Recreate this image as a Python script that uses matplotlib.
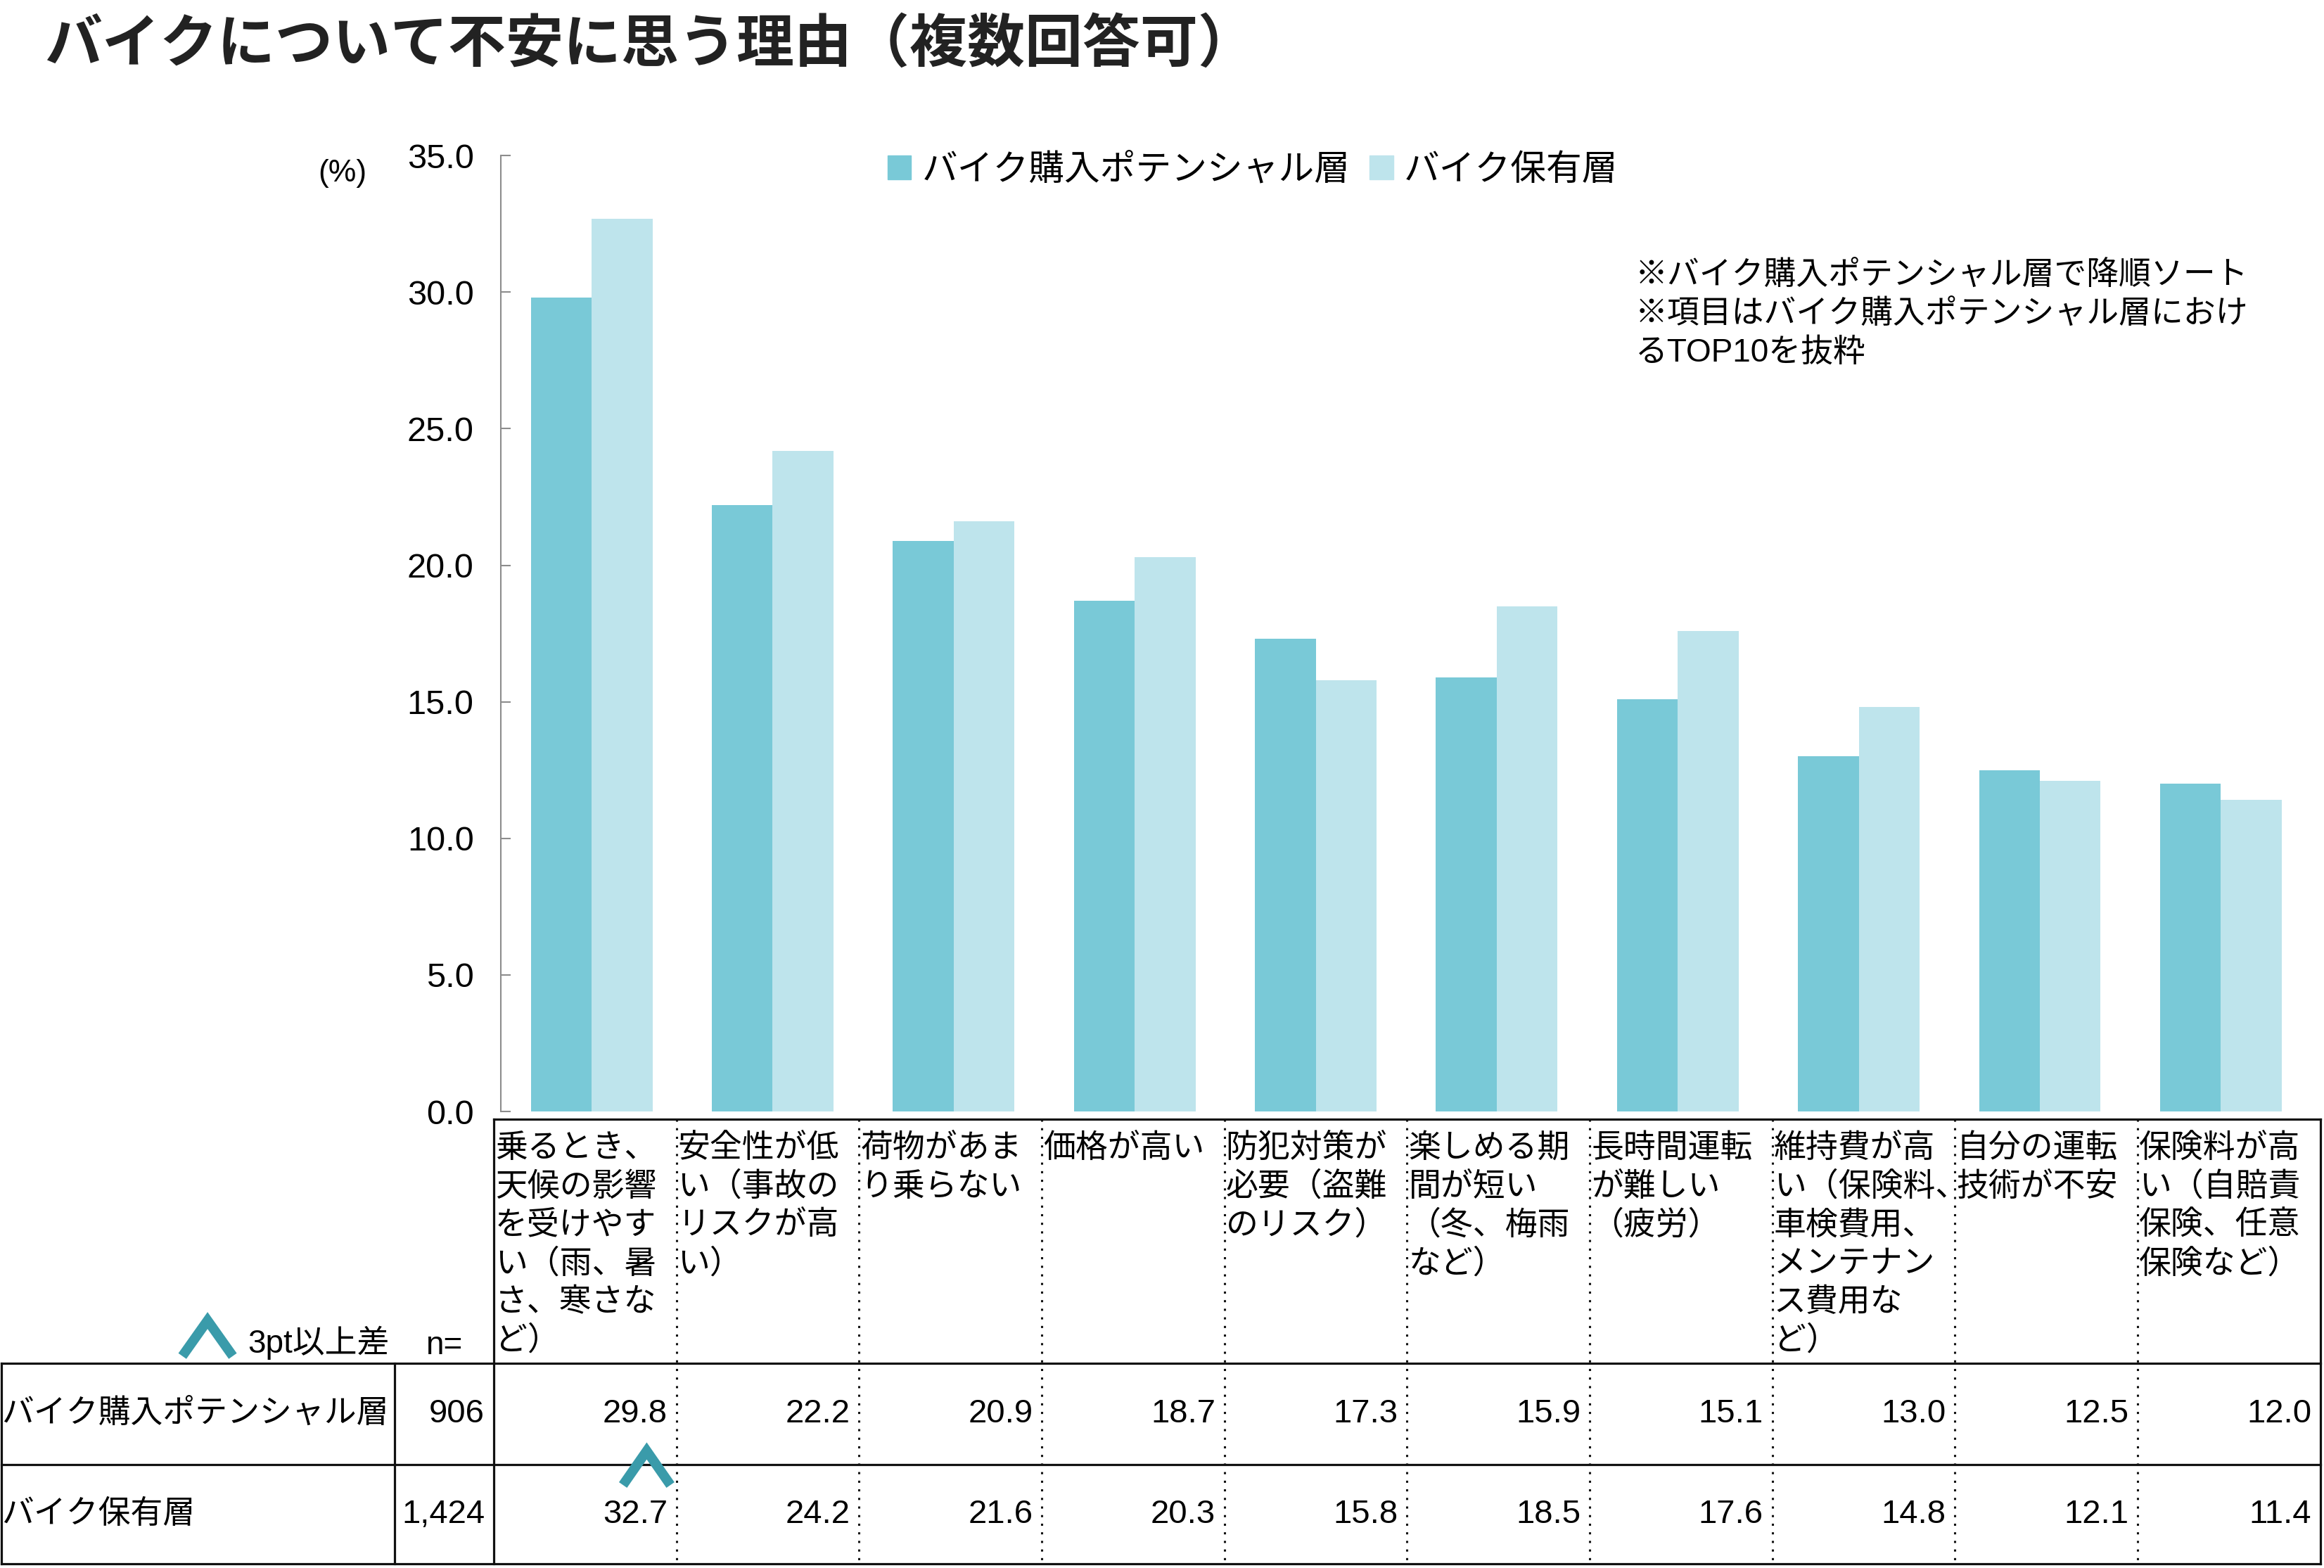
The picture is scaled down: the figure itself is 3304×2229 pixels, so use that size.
import numpy as np
import matplotlib.pyplot as plt
from matplotlib.lines import Line2D
from matplotlib.patches import Patch

plt.rcParams['font.family'] = ['Liberation Sans', 'Noto Sans CJK JP', 'DejaVu Sans']

# data
categories = [
    "乗るとき、\n天候の影響\nを受けやす\nい（雨、暑\nさ、寒さな\nど）",
    "安全性が低\nい（事故の\nリスクが高\nい）",
    "荷物があま\nり乗らない",
    "価格が高い",
    "防犯対策が\n必要（盗難\nのリスク）",
    "楽しめる期\n間が短い\n（冬、梅雨\nなど）",
    "長時間運転\nが難しい\n（疲労）",
    "維持費が高\nい（保険料、\n車検費用、\nメンテナン\nス費用な\nど）",
    "自分の運転\n技術が不安",
    "保険料が高\nい（自賠責\n保険、任意\n保険など）",
]
series_names = ["バイク購入ポテンシャル層", "バイク保有層"]
potential = [29.8, 22.2, 20.9, 18.7, 17.3, 15.9, 15.1, 13.0, 12.5, 12.0]
owner = [32.7, 24.2, 21.6, 20.3, 15.8, 18.5, 17.6, 14.8, 12.1, 11.4]
n_values = ["906", "1,424"]
owner_flag = [True, False, False, False, False, False, False, False, False, False]
yticks = [0, 5, 10, 15, 20, 25, 30, 35]

title = "バイクについて不安に思う理由（複数回答可）"
notes = ["※バイク購入ポテンシャル層で降順ソート",
         "※項目はバイク購入ポテンシャル層におけ",
         "るTOP10を抜粋"]

c_dark = '#79C9D7'
c_light = '#BEE4EC'
c_mark = '#3A9BAA'
c_line = '#111111'

# layout grid (reference pixels at 1568 x 1058)
W, H = 1568, 1058
def fx(x):
    return x / W
def fy(y):
    return 1 - y / H

fig = plt.figure(figsize=(33.05, 22.29), dpi=100)

fig.text(fx(30), fy(31), title, fontsize=59, fontweight='bold',
         ha='left', va='center', color='#222222')

# bar chart
ax = fig.add_axes([fx(338), fy(750), fx(1559) - fx(338), fy(105) - fy(750)])
x = np.arange(len(categories))
bw = 0.336
ax.bar(x - bw / 2, potential, bw, color=c_dark, label=series_names[0])
ax.bar(x + bw / 2, owner, bw, color=c_light, label=series_names[1])
ax.set_xlim(-0.5, 9.5)
ax.set_ylim(0, 35)
ax.set_xticks([])
ax.set_yticks(yticks)
ax.set_yticklabels([f"{v:.1f}" for v in yticks])
for s in ['top', 'right', 'bottom']:
    ax.spines[s].set_visible(False)
ax.spines['left'].set_color('#8c8c8c')
ax.spines['left'].set_linewidth(1.5)
ax.tick_params(axis='y', direction='in', length=10, width=1.5, color='#8c8c8c',
               pad=28, labelsize=35)

fig.text(fx(231), fy(117), "(%)", fontsize=32, ha='center', va='center')

handles = [Patch(color=c_dark), Patch(color=c_light)]
fig.legend(handles, series_names, loc='center', bbox_to_anchor=(fx(845), fy(115)),
           ncol=2, frameon=False, fontsize=36.5, handlelength=0.66, handleheight=0.66,
           handletextpad=0.3, columnspacing=0.55, borderpad=0)

for i, line in enumerate(notes):
    fig.text(fx(1103), fy(186 + 26 * i), line, fontsize=33, ha='left', va='center')

# table
def hline(y, x0, x1, **kw):
    fig.add_artist(Line2D([fx(x0), fx(x1)], [fy(y), fy(y)], transform=fig.transFigure, **kw))

def vline(xx, y0, y1, **kw):
    fig.add_artist(Line2D([fx(xx), fx(xx)], [fy(y0), fy(y1)], transform=fig.transFigure, **kw))

solid = dict(color=c_line, lw=2.3)
dotted = dict(color=c_line, lw=2.2, linestyle=(0, (1, 3)))

t_left, t_right = 333, 1565
col_w = (t_right - t_left) / len(categories)
hline(755, t_left, t_right, **solid)
for yy in [920, 988, 1055]:
    hline(yy, 1, t_right, **solid)
vline(t_left, 755, 1055, **solid)
vline(t_right, 755, 1055, **solid)
vline(1, 920, 1055, **solid)
vline(266, 920, 1055, **solid)
for k in range(1, len(categories)):
    vline(t_left + col_w * k, 755, 1055, **dotted)

for i, lab in enumerate(categories):
    cl = t_left + col_w * i
    for j, line in enumerate(lab.split("\n")):
        fig.text(fx(cl + 1), fy(775 + 26 * j), line, fontsize=33, ha='left', va='center')

row_y = [954, 1022]
for r, vals in enumerate([potential, owner]):
    fig.text(fx(1), fy(row_y[r]), series_names[r], fontsize=33, ha='left', va='center')
    fig.text(fx(327), fy(row_y[r]), n_values[r], fontsize=34, ha='right', va='center')
    for i, v in enumerate(vals):
        cr = t_left + col_w * (i + 1)
        fig.text(fx(cr - 6), fy(row_y[r]), f"{v:.1f}", fontsize=34, ha='right', va='center')

def caret(cx, ytop, ybot, hw):
    fig.add_artist(Line2D([fx(cx - hw), fx(cx), fx(cx + hw)], [fy(ybot), fy(ytop), fy(ybot)],
                          transform=fig.transFigure, color=c_mark, lw=10,
                          solid_joinstyle='miter', solid_capstyle='butt'))

for i, f in enumerate(owner_flag):
    if f:
        cr = t_left + col_w * (i + 1)
        caret(cr - 20, 979, 1002, 16)

caret(140, 891, 915, 17)
fig.text(fx(167), fy(906), "3pt以上差", fontsize=33, ha='left', va='center')
fig.text(fx(312), fy(908), "n=", fontsize=33, ha='right', va='center')

fig.savefig('out.png', dpi=100)
